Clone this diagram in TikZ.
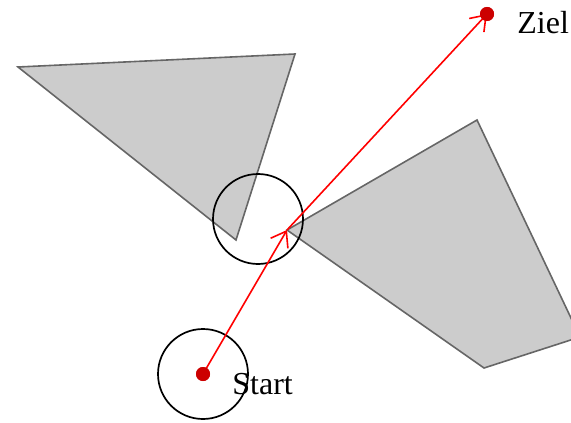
\documentclass[tikz,border=0pt]{standalone}
\usepackage{fontspec}
\setmainfont{Liberation Serif}
\usetikzlibrary{arrows.meta}
\definecolor{obst}{HTML}{CCCCCC}
\definecolor{obstline}{HTML}{666666}
\definecolor{dotred}{HTML}{CC0000}
\begin{document}
\begin{tikzpicture}[x=0.5pt,y=-0.5pt]
  \tikzset{hind/.style={fill=obst,draw=obstline,line width=0.8pt,line join=miter},
    pt/.style={circle,fill=dotred,inner sep=0pt,minimum size=7pt},
    rng/.style={circle,draw=black,line width=0.85pt,minimum size=45pt,inner sep=0pt},
    lbl/.style={anchor=west,inner sep=0pt,font=\fontsize{16}{19}\selectfont},
    mv/.style={red,line width=0.8pt,-{Straight Barb[length=7pt,width=10pt,line width=0.8pt]}}}
  \useasboundingbox (0,0) rectangle (571,422);
  \clip (0,0) rectangle (571,422);
  \draw[hind] (18,67) -- (295,54) -- (236,240) -- cycle;
  \draw[hind] (287,230) -- (477,120) -- (580,337) -- (484,368) -- cycle;
  \coordinate (via) at (287,230);
  \node[rng] (c1) at (203,374) {};
  \node[rng] (c2) at (258,219) {};
  \node[pt] (start) at (203,374) {};
  \node[pt] (ziel) at (487,14) {};
  \draw[mv] (start.center) -- (via);
  \draw[mv] (via) -- (ziel.center);
  \node[pt] at (start) {};
  \node[pt] at (ziel) {};
  \node[lbl] (lstart) at (232,384) {Start};
  \node[lbl] (lziel) at (517,23) {Ziel};
\end{tikzpicture}
\end{document}
